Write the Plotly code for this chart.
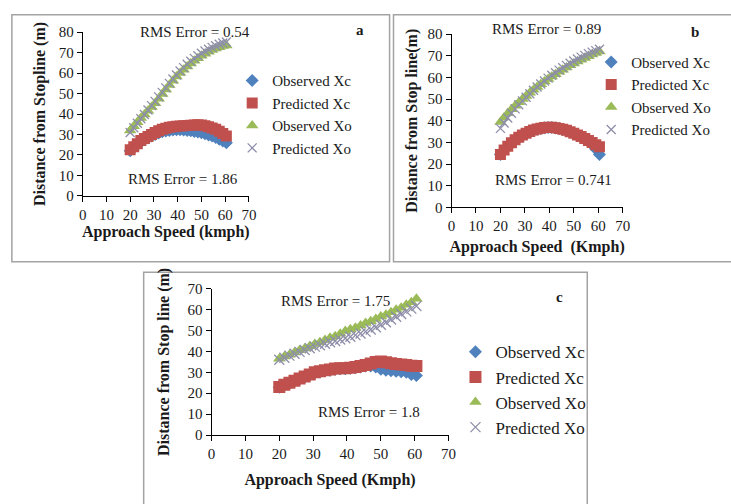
import plotly.graph_objects as go

W, H = 731, 504

# ---------------- data ----------------
speed = [20, 21.5, 23, 24.5, 26, 27.5, 29, 30.5, 32, 33.5, 35, 36.5, 38, 39.5,
         41, 42.5, 44, 45.5, 47, 48.5, 50, 51.5, 53, 54.5, 56, 57.5, 59, 60.5]

series_names = ["Observed Xc", "Predicted Xc", "Observed Xo", "Predicted Xo"]

# Panel a
a_obs_xc = [22.0, 23.5, 25.0, 26.3, 27.4, 28.3, 29.2, 30.0, 30.7, 31.3, 31.7, 32.0, 32.2, 32.3,
            32.3, 32.2, 32.0, 31.8, 31.5, 31.2, 30.8, 30.3, 29.8, 29.2, 28.5, 27.7, 26.8, 26.0]
a_pred_xc = [22.5, 24.0, 25.5, 27.0, 28.0, 29.0, 30.0, 31.0, 31.8, 32.5, 33.0, 33.5, 33.8, 34.0,
             34.2, 34.3, 34.4, 34.5, 34.6, 34.7, 34.6, 34.3, 33.8, 33.2, 32.5, 31.6, 30.5, 29.3]
a_obs_xo = [32.0, 34.0, 36.0, 38.0, 39.8, 41.6, 43.4, 45.3, 47.5, 49.8, 52.0, 54.2, 56.3, 58.3,
            60.0, 61.7, 63.2, 64.7, 66.0, 67.3, 68.5, 69.5, 70.5, 71.3, 72.0, 72.7, 73.3, 73.5]
a_pred_xo = [31.0, 33.3, 35.5, 37.7, 39.8, 42.0, 44.1, 46.2, 48.4, 50.6, 52.8, 55.0, 57.1, 59.1,
             61.0, 62.7, 64.3, 65.8, 67.2, 68.5, 69.7, 70.8, 71.7, 72.6, 73.4, 74.1, 74.7, 75.2]

# Panel b
b_obs_xc = [24.5, 26.5, 28.2, 29.8, 31.1, 32.3, 33.3, 34.2, 35.0, 35.6, 36.1, 36.5, 36.8, 36.9,
            36.9, 36.7, 36.4, 36.0, 35.5, 34.9, 34.2, 33.4, 32.5, 31.5, 30.4, 29.0, 27.0, 24.5]
b_pred_xc = [24.5, 26.5, 28.3, 29.9, 31.2, 32.4, 33.4, 34.3, 35.1, 35.7, 36.2, 36.6, 36.9, 37.0,
             37.0, 36.8, 36.5, 36.1, 35.6, 35.0, 34.3, 33.5, 32.7, 31.8, 30.9, 30.0, 29.0, 28.0]
b_obs_xo = [39.5, 41.5, 43.5, 45.3, 47.0, 48.6, 50.1, 51.5, 52.9, 54.3, 55.6, 56.9, 58.1, 59.3,
            60.4, 61.5, 62.6, 63.6, 64.6, 65.6, 66.5, 67.4, 68.2, 69.0, 69.8, 70.6, 71.3, 72.0]
b_pred_xo = [36.5, 39.0, 41.3, 43.5, 45.5, 47.4, 49.2, 50.9, 52.5, 54.1, 55.6, 57.0, 58.4, 59.7,
             61.0, 62.2, 63.4, 64.5, 65.6, 66.6, 67.6, 68.5, 69.4, 70.2, 71.0, 71.7, 72.4, 73.0]

# Panel c
c_obs_xc = [22.8, 23.8, 24.8, 25.8, 26.8, 27.8, 28.8, 29.7, 30.2, 30.7, 31.0, 31.5, 31.7, 31.7,
            31.9, 32.2, 32.6, 33.0, 33.0, 32.5, 31.5, 31.0, 30.8, 30.5, 30.3, 30.0, 29.0, 28.5]
c_pred_xc = [23.0, 24.0, 25.0, 26.0, 27.0, 28.0, 29.0, 30.0, 30.5, 31.0, 31.3, 31.8, 32.0, 32.0,
             32.2, 32.5, 33.0, 33.5, 34.2, 35.0, 35.2, 34.8, 34.3, 34.0, 33.8, 33.5, 33.2, 33.0]
c_obs_xo = [36.5, 37.6, 38.4, 39.5, 40.6, 41.4, 42.5, 43.6, 44.4, 45.5, 46.6, 47.3, 48.5, 49.8,
            50.6, 51.3, 52.4, 53.6, 54.4, 55.5, 56.7, 57.6, 58.8, 60.0, 60.9, 62.3, 63.6, 65.2]
c_pred_xo = [36.0, 37.0, 38.0, 38.9, 39.8, 40.7, 41.5, 42.3, 43.0, 43.7, 44.4, 45.0, 45.7, 46.3,
             47.0, 47.8, 48.6, 49.5, 50.5, 51.6, 52.8, 54.0, 55.3, 56.6, 57.9, 59.2, 60.5, 61.8]

x_ticks = [0, 10, 20, 30, 40, 50, 60, 70]

# ---------------- styling ----------------
FONT = "Liberation Serif, Times New Roman, serif"
TXT = "#1a1a1a"
COLORS = ["#4F81BD", "#C0504D", "#9BBB59", "#8E8EAA"]
SYMBOLS = ["diamond", "square", "triangle-up", "x-thin"]


def px(x):
    return x / W


def py(y):
    return 1 - y / H


fig = go.Figure()

panels = [
    ("x", "y", "legend", [a_obs_xc, a_pred_xc, a_obs_xo, a_pred_xo], [10, 11, 11, 9]),
    ("x2", "y2", "legend2", [b_obs_xc, b_pred_xc, b_obs_xo, b_pred_xo], [10, 11, 11, 9]),
    ("x3", "y3", "legend3", [c_obs_xc, c_pred_xc, c_obs_xo, c_pred_xo], [10, 12, 11, 10]),
]

for xa, ya, lg, ys, sizes in panels:
    for i, (name, vals) in enumerate(zip(series_names, ys)):
        if SYMBOLS[i] == "x-thin":
            marker = dict(symbol="x-thin", size=sizes[i], color=COLORS[i],
                          line=dict(color=COLORS[i], width=1.3))
        else:
            marker = dict(symbol=SYMBOLS[i], size=sizes[i], color=COLORS[i],
                          line=dict(width=0))
        fig.add_trace(go.Scatter(
            x=speed, y=vals, mode="markers", name=name, marker=marker,
            xaxis=xa, yaxis=ya, legend=lg,
        ))

axis_common = dict(
    showline=True, linecolor="black", linewidth=1, mirror=False,
    ticks="outside", ticklen=5, tickwidth=1, tickcolor="black",
    showgrid=False, zeroline=False,
    tickfont=dict(family=FONT, size=15, color=TXT),
    title_font=dict(family=FONT, size=16, color=TXT),
)

fig.update_layout(
    width=W, height=H, margin=dict(l=0, r=0, t=0, b=0),
    paper_bgcolor="white", plot_bgcolor="rgba(0,0,0,0)",
    font=dict(family=FONT, size=14, color=TXT),
    xaxis=dict(axis_common, domain=[px(80), px(249)], range=[0, 70], tickvals=x_ticks,
               anchor="y", title=dict(text="<b>Approach Speed (kmph)</b>", standoff=3)),
    yaxis=dict(axis_common, domain=[py(194), py(25)], range=[0, 80], dtick=10,
               anchor="x", title=dict(text="<b>Distance from Stopline (m)</b>", standoff=9)),
    xaxis2=dict(axis_common, domain=[px(455), px(629)], range=[0, 70], tickvals=x_ticks,
                anchor="y2", title=dict(text="<b>Approach Speed\u00a0 (Kmph)</b>", standoff=7)),
    yaxis2=dict(axis_common, domain=[py(206), py(27)], range=[0, 80], dtick=10,
                anchor="x2", title=dict(text="<b>Distance from Stop line(m)</b>", standoff=5)),
    xaxis3=dict(axis_common, domain=[px(211), px(452)], range=[0, 70], tickvals=x_ticks,
                anchor="y3", title=dict(text="<b>Approach Speed (Kmph)</b>", standoff=12)),
    yaxis3=dict(axis_common, domain=[py(441), py(290)], range=[0, 70], dtick=10,
                anchor="x3", title=dict(text="<b>Distance from Stop line (m)</b>", standoff=13)),
    legend=dict(x=px(232), y=py(58), xanchor="left", yanchor="top", bgcolor="rgba(0,0,0,0)",
                font=dict(family=FONT, size=15, color=TXT), traceorder="normal"),
    legend2=dict(x=px(597), y=py(39), xanchor="left", yanchor="top", bgcolor="rgba(0,0,0,0)",
                 font=dict(family=FONT, size=15, color=TXT), traceorder="normal"),
    legend3=dict(x=px(459), y=py(337), xanchor="left", yanchor="top", bgcolor="rgba(0,0,0,0)",
                 font=dict(family=FONT, size=17, color=TXT), traceorder="normal"),
    showlegend=True,
)

# panel frames
frames = [(8, 7, 392, 262), (396, 7, 740, 262), (142, 273, 593, 520)]
for x0, y0, x1, y1 in frames:
    fig.add_shape(type="rect", xref="paper", yref="paper",
                  x0=px(x0), x1=px(x1), y0=py(y1), y1=py(y0),
                  line=dict(color="#A3A3A3", width=1.5), fillcolor="rgba(0,0,0,0)", layer="below")

# text labels
labels = [
    ("RMS Error = 0.54", 194, 25, False),
    ("RMS Error = 1.86", 182, 177, False),
    ("RMS Error = 0.89", 552, 22, False),
    ("RMS Error = 0.741", 559, 178, False),
    ("RMS Error = 1.75", 337, 303, False),
    ("RMS Error = 1.8", 371, 417, False),
    ("a", 362, 23, True),
    ("b", 703, 25, True),
    ("c", 565, 298, True),
]
for text, x, y, bold in labels:
    fig.add_annotation(
        text=f"<b>{text}</b>" if bold else text,
        xref="paper", yref="paper", x=px(x), y=py(y),
        xanchor="center", yanchor="middle", showarrow=False,
        font=dict(family=FONT, size=15, color=TXT),
    )

fig.write_html("out.html")
